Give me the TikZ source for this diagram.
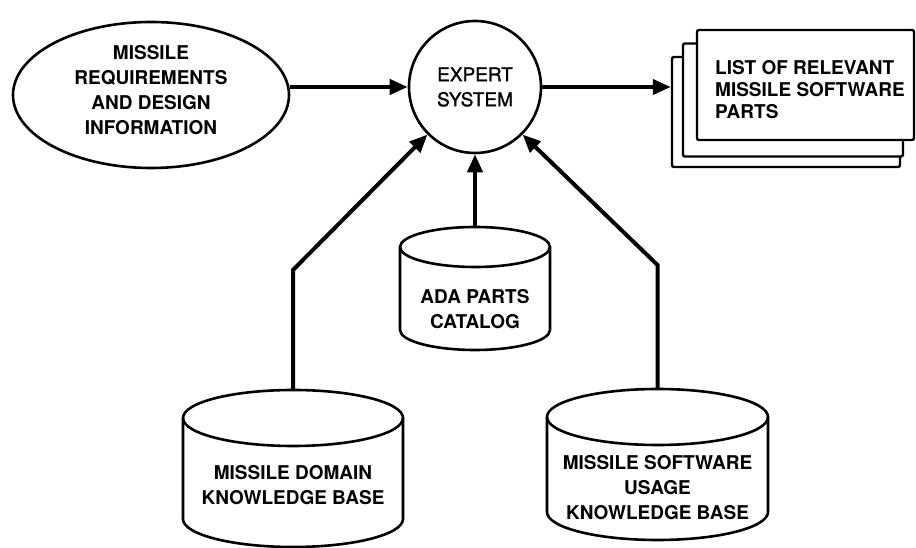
\documentclass[tikz,border=0pt]{standalone}
\usepackage{fontspec}
\setmainfont{TeX Gyre Heros}
\newfontfamily\semibfont[FakeBold=1.3]{TeX Gyre Heros}
\usetikzlibrary{arrows.meta,shapes.geometric,calc}
\tikzset{
  lbl/.style={font=\bfseries\fontsize{19}{25}\selectfont, align=center, inner sep=0pt},
  listlbl/.style={font=\bfseries\fontsize{19}{22}\selectfont, align=left, inner sep=0pt},
  arr/.style={line width=4pt, -{Triangle[length=18pt,width=15pt]}},
  outl/.style={line width=2.6pt},
  pagebox/.style={draw, line width=2.4pt, fill=white, rounded corners=2pt, inner sep=0pt},
}
\begin{document}
\begin{tikzpicture}[x=1pt,y=1pt]
\fill[white] (0,0) rectangle (916,548);
\useasboundingbox (0,0) rectangle (916,548);

% input ellipse
\node[draw, ellipse, outl, minimum width=276pt, minimum height=146pt, inner sep=0pt] (req) at (151,453) {};
\node[lbl] (reqtext) at (151,457.5) {MISSILE\\REQUIREMENTS\\AND DESIGN\\INFORMATION};

% expert system
\node[circle, draw, outl, minimum size=132pt, inner sep=0pt,
      font=\semibfont\fontsize{19}{25}\selectfont, align=center] (circ) at (475,461) {EXPERT\\SYSTEM};

% stacked pages
\node[pagebox, minimum width=228pt, minimum height=110pt] (back) at (786,436) {};
\node[pagebox, minimum width=220pt, minimum height=113pt] (mid) at (793,448) {};
\node[pagebox, minimum width=217pt, minimum height=110pt] (front) at (805.5,463) {};
\node[listlbl, anchor=west] (listtext) at (715,458) {LIST OF RELEVANT\\MISSILE SOFTWARE\\PARTS};

% ADA parts catalog cylinder
\draw[outl, fill=white] (400,301) -- (400,218) arc[start angle=180, end angle=360, x radius=75pt, y radius=20pt]
  -- (550,301) arc[start angle=0, end angle=180, x radius=75pt, y radius=20pt] -- cycle;
\draw[outl] (400,301) arc[start angle=180, end angle=360, x radius=75pt, y radius=20pt];
\coordinate (adatop) at (475,321);
\node[lbl] (adatxt) at (475,238.5) {ADA PARTS\\CATALOG};

% missile domain knowledge base cylinder
\draw[outl, fill=white] (183,130) -- (183,29) arc[start angle=180, end angle=360, x radius=110pt, y radius=28pt]
  -- (403,130) arc[start angle=0, end angle=180, x radius=110pt, y radius=28pt] -- cycle;
\draw[outl] (183,130) arc[start angle=180, end angle=360, x radius=110pt, y radius=28pt];
\coordinate (domtop) at (293,158);
\coordinate (dombend) at (293,278);
\node[lbl] (domtxt) at (293,63) {MISSILE DOMAIN\\KNOWLEDGE BASE};

% missile software usage knowledge base cylinder
\draw[outl, fill=white] (547,131) -- (547,36) arc[start angle=180, end angle=360, x radius=110.5pt, y radius=28pt]
  -- (768,131) arc[start angle=0, end angle=180, x radius=110.5pt, y radius=28pt] -- cycle;
\draw[outl] (547,131) arc[start angle=180, end angle=360, x radius=110.5pt, y radius=28pt];
\coordinate (usetop) at (657.5,159);
\coordinate (usebend) at (657.5,283);
\node[lbl] (usetxt) at (657.5,60.5) {MISSILE SOFTWARE\\USAGE\\KNOWLEDGE BASE};

% connectors
\draw[arr] (req.east |- circ.west) -- (circ.west);
\draw[arr] (circ.east) -- (circ.east -| back.west);
\draw[arr] (adatop) -- (circ.south);
\draw[arr] (domtop) -- (dombend) -- (circ.225);
\draw[arr] (usetop) -- (usebend) -- (circ.-45);
\end{tikzpicture}
\end{document}
